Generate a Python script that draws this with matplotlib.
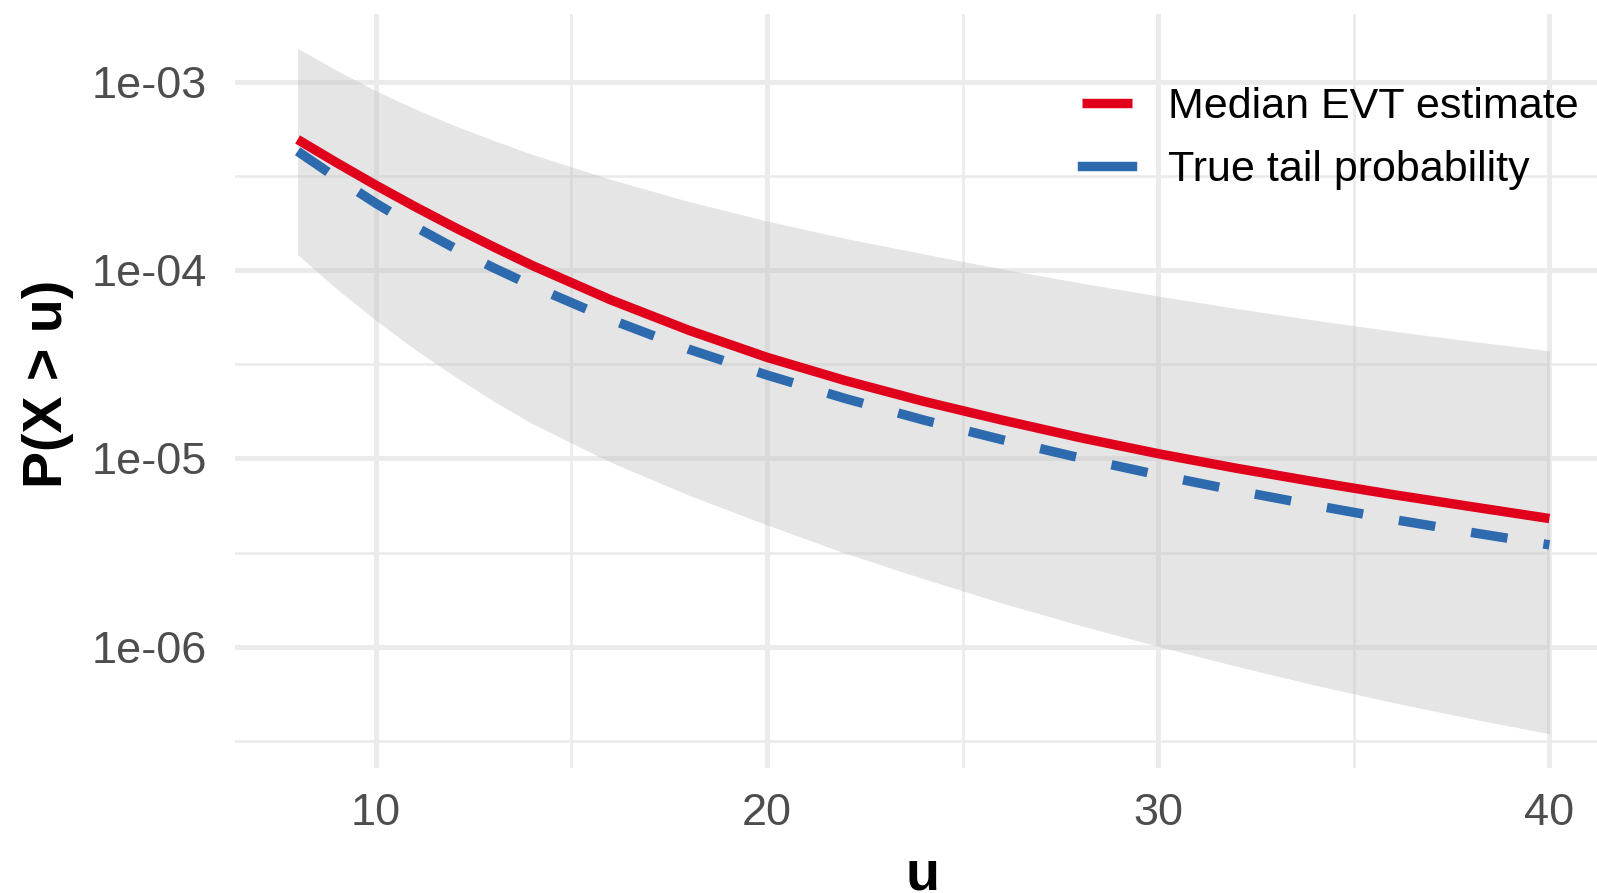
import matplotlib
matplotlib.use("Agg")
import matplotlib.pyplot as plt
import numpy as np

plt.rcParams['font.family'] = ['Liberation Sans', 'DejaVu Sans']

# ---- data ----
u = [8, 9, 10, 11, 12, 13, 14, 16, 18, 20, 22, 24, 26, 28, 30, 32, 34, 36, 38, 40]
median_evt = [4.93e-4, 3.71e-4, 2.82e-4, 2.17e-4, 1.69e-4, 1.33e-4, 1.057e-4, 6.95e-5,
              4.79e-5, 3.44e-5, 2.59e-5, 2.01e-5, 1.60e-5, 1.29e-5, 1.06e-5, 8.87e-6,
              7.52e-6, 6.43e-6, 5.55e-6, 4.80e-6]
true_tail = [4.27e-4, 3.08e-4, 2.26e-4, 1.70e-4, 1.31e-4, 1.03e-4, 8.24e-5, 5.47e-5,
             3.80e-5, 2.77e-5, 2.08e-5, 1.60e-5, 1.259e-5, 1.007e-5, 8.18e-6, 6.75e-6,
             5.64e-6, 4.75e-6, 4.05e-6, 3.48e-6]
band_upper = [1.503e-3, 1.146e-3, 8.93e-4, 7.16e-4, 5.86e-4, 4.88e-4, 4.11e-4, 3.03e-4,
              2.31e-4, 1.82e-4, 1.472e-4, 1.219e-4, 1.014e-4, 8.55e-5, 7.28e-5, 6.25e-5,
              5.42e-5, 4.74e-5, 4.19e-5, 3.73e-5]
band_lower = [1.208e-4, 7.94e-5, 5.41e-5, 3.79e-5, 2.74e-5, 2.02e-5, 1.53e-5, 9.57e-6,
              6.38e-6, 4.44e-6, 3.14e-6, 2.30e-6, 1.71e-6, 1.30e-6, 1.007e-6, 7.89e-7,
              6.27e-7, 5.07e-7, 4.16e-7, 3.46e-7]
series_labels = ["Median EVT estimate", "True tail probability"]
x_ticks = [10, 20, 30, 40]
x_minor = [15, 25, 35]
y_ticks = [1e-6, 1e-5, 1e-4, 1e-3]
y_tick_labels = ["1e-06", "1e-05", "1e-04", "1e-03"]
y_minor = [10 ** -6.5, 10 ** -5.5, 10 ** -4.5, 10 ** -3.5]

RED = "#E0001B"
BLUE = "#2D6AAE"
GRID = "#EBEBEB"

W, H = 1597, 893
fig = plt.figure(figsize=(W / 100, H / 100), dpi=100)
fig.patch.set_facecolor("white")

left, right, top, bottom = 235, 1612, 14, 768
ax = fig.add_axes([left / W, 1 - bottom / H, (right - left) / W, (bottom - top) / H])
ax.set_facecolor("white")

ax.fill_between(u, band_lower, band_upper, color="#BFBFBF", alpha=0.4,
                linewidth=0, zorder=2)
lw = 6.8
ax.plot(u, median_evt, color=RED, lw=lw, solid_capstyle="butt",
        solid_joinstyle="round", zorder=3, label=series_labels[0])
ax.plot(u, true_tail, color=BLUE, lw=lw, dashes=(3.9, 3.85), dash_capstyle="butt",
        zorder=4, label=series_labels[1])

ax.set_yscale("log")
lo = np.log10(min(band_lower))
hi = np.log10(max(band_upper))
rng = hi - lo
ax.set_ylim(10 ** (lo - 0.05 * rng), 10 ** (hi + 0.05 * rng))
xr = max(u) - min(u)
ax.set_xlim(min(u) - 0.05 * xr, max(u) + 0.05 * xr)

ax.set_xticks(x_ticks)
ax.set_xticks(x_minor, minor=True)
ax.set_yticks(y_ticks)
ax.set_yticklabels(y_tick_labels)
ax.set_yticks(y_minor, minor=True)
ax.yaxis.set_minor_formatter(matplotlib.ticker.NullFormatter())

ax.grid(which="major", color=GRID, lw=3.6, zorder=0)
ax.grid(which="minor", color=GRID, lw=1.9, zorder=0)
ax.set_axisbelow(True)
for s in ax.spines.values():
    s.set_visible(False)
ax.tick_params(which="both", length=0)
ax.tick_params(axis="y", labelsize=32.5, labelcolor="#4D4D4D", pad=20)
ax.tick_params(axis="x", labelsize=32.5, labelcolor="#4D4D4D", pad=18)

fig.text(48 / W, 1 - 384 / H, "P(X > u)", rotation=90, ha="center", va="center",
         fontsize=40, fontweight="bold", color="black")
fig.text(923 / W, 1 - 889 / H, "u", ha="center", va="baseline",
         fontsize=40, fontweight="bold", color="black")

leg = ax.legend(loc="upper left", bbox_to_anchor=(1082 / W, 1 - 87 / H),
                bbox_transform=fig.transFigure, frameon=False, fontsize=31,
                handlelength=1.16, handletextpad=0.84, labelspacing=0.53,
                borderpad=0, borderaxespad=0)
for line in leg.get_lines():
    line.set_linestyle("-")
    line.set_linewidth(lw)

fig.savefig("out.png", dpi=100, facecolor="white")
